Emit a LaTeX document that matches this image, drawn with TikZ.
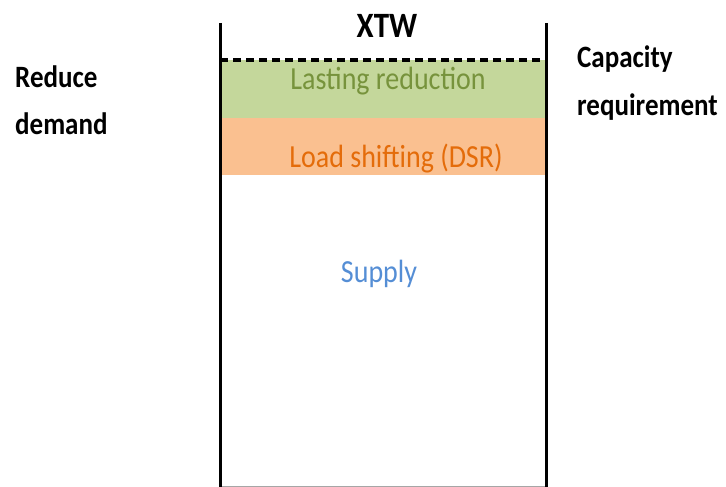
\documentclass[tikz,border=0pt]{standalone}
\usepackage{fontspec}
\setmainfont{Carlito}
\definecolor{greenfill}{HTML}{C4D79B}
\definecolor{greentext}{HTML}{77933C}
\definecolor{orangefill}{HTML}{FAC090}
\definecolor{orangetext}{HTML}{E46C0A}
\definecolor{bluetext}{HTML}{558ED5}
\tikzset{
  lbl/.style={inner sep=0pt, yscale=1.15, transform shape, font=\fontsize{28}{41}\selectfont},
  sidelbl/.style={lbl, font=\fontsize{27}{41}\selectfont\bfseries, align=left},
  wall/.style={line width=3pt},
}
\begin{document}
\begin{tikzpicture}[x=1pt,y=1pt]
\useasboundingbox (0,0) rectangle (726,-487);
% bands
\fill[greenfill] (220,-60) rectangle (546,-118);
\fill[orangefill] (220,-118) rectangle (546,-175);
% walls
\coordinate (lt) at (220,-23);
\coordinate (lb) at (220,-487);
\coordinate (rt) at (546,-23);
\coordinate (rb) at (546,-487);
\draw[gray!70, line width=1pt] (220,-486) -- (546,-486);
\draw[wall] (lt) -- (lb);
\draw[wall] (rt) -- (rb);
\coordinate (dl) at (220,-60);
\coordinate (dr) at (546,-60);
\draw[line width=3.5pt, dash pattern=on 8pt off 5pt] (dl) -- (dr);
% texts
\node[lbl, font=\fontsize{31}{36}\selectfont\bfseries, anchor=base] (xtw) at (387,-38) {XTW};
\node[lbl, text=greentext, anchor=base] (last) at (388,-90) {Lasting reduction};
\node[lbl, text=orangetext, anchor=base] (load) at (396,-167) {Load shifting (DSR)};
\node[lbl, text=bluetext, anchor=base] (sup) at (379,-282) {Supply};
\node[sidelbl, anchor=base west] (red) at (15,-135) {Reduce\\demand};
\node[sidelbl, anchor=base west] (cap) at (577,-115) {Capacity\\requirement};
\end{tikzpicture}
\end{document}
